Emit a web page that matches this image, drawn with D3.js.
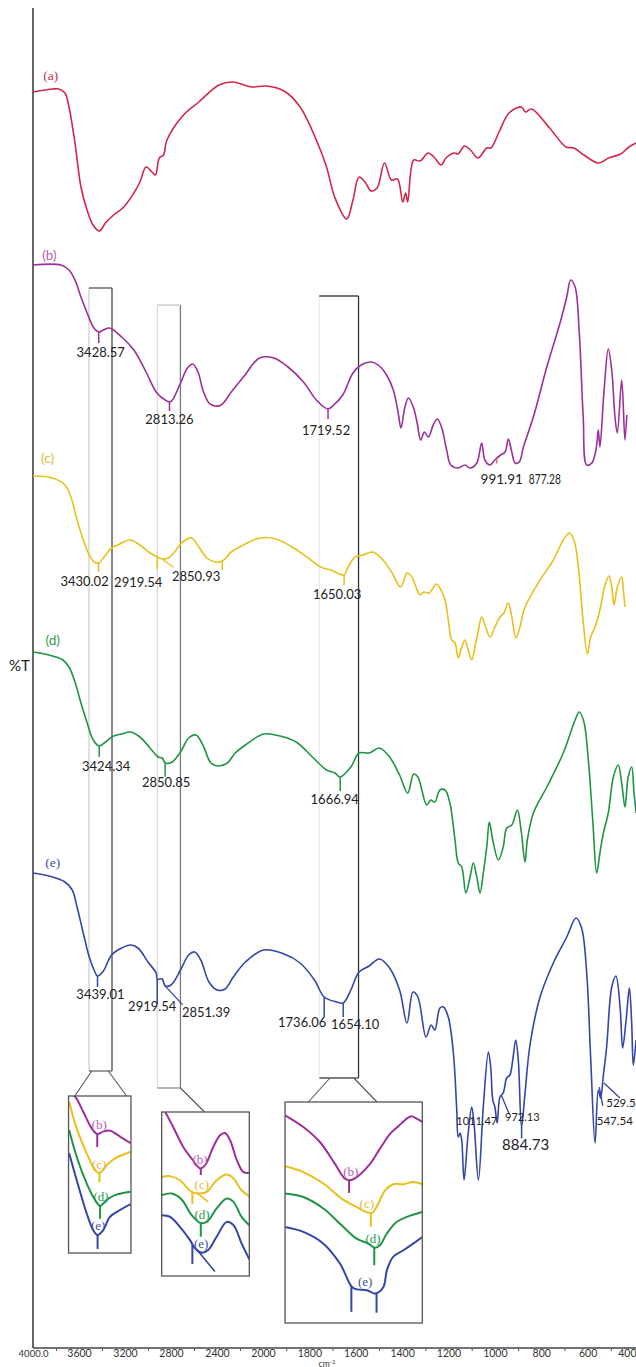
<!DOCTYPE html>
<html>
<head>
<meta charset="utf-8">
<script src="https://cdn.jsdelivr.net/npm/d3@7"></script>
<style>
  html, body { margin: 0; padding: 0; background: #fff; }
  svg { display: block; }
</style>
</head>
<body>
<svg id="chart" width="636" height="1367"></svg>
<script>
// ---------- FTIR spectra: [wavenumber cm-1, stacked %T] ----------
const specA = [[4000,125.6],[3829,125.9],[3776,125.9],[3722,125.5],[3687,124.1],[3635,120.5],[3583,116.1],[3530,113.8],[3478,112.3],[3423,111.7],[3370,112.5],[3299,113.3],[3211,114.1],[3123,115.5],[3070,116.6],[3017,118.1],[2965,117.6],[2936,117.3],[2901,119.0],[2865,119.3],[2835,120.8],[2699,123.2],[2558,124.6],[2383,126.3],[2261,126.6],[2100,126.1],[1988,126.2],[1909,125.7],[1840,124.1],[1770,120.8],[1726,118.1],[1691,115.1],[1639,112.9],[1612,114.8],[1586,117.1],[1560,116.6],[1534,115.7],[1508,116.0],[1476,118.5],[1446,116.8],[1420,116.9],[1397,114.6],[1385,115.5],[1376,114.6],[1350,118.8],[1323,118.7],[1288,119.5],[1263,119.1],[1231,118.3],[1211,119.0],[1176,119.5],[1159,119.4],[1131,120.2],[1105,119.8],[1073,119.0],[1035,120.0],[1017,120.0],[982,121.6],[939,123.5],[886,124.1],[868,123.6],[842,123.9],[764,122.0],[693,120.1],[659,120.0],[616,119.3],[553,118.5],[510,119.0],[457,119.4],[422,120.1],[391,120.5]];

const specB = [[4000,108.3],[3757,108.3],[3687,107.8],[3635,106.8],[3583,105.1],[3529,103.5],[3476,102.1],[3429,101.6],[3388,101.8],[3335,102.0],[3229,101.1],[3123,99.8],[3017,97.6],[2929,95.6],[2876,95.0],[2813,94.6],[2788,94.8],[2717,96.5],[2657,98.0],[2611,98.4],[2565,97.6],[2523,95.8],[2470,94.5],[2417,94.2],[2364,94.3],[2276,95.6],[2170,97.1],[2030,99.0],[1953,99.0],[1892,98.1],[1822,96.5],[1770,94.8],[1720,93.9],[1695,94.3],[1656,95.3],[1612,97.5],[1577,98.3],[1533,98.6],[1498,98.2],[1467,97.3],[1438,95.8],[1417,93.5],[1405,92.0],[1388,94.1],[1373,95.0],[1352,94.1],[1335,92.5],[1320,90.8],[1304,91.6],[1287,91.1],[1266,92.3],[1248,92.9],[1229,92.0],[1208,89.8],[1190,88.3],[1158,88.0],[1129,88.3],[1107,88.0],[1078,88.5],[1057,90.5],[1043,88.8],[1021,88.3],[1000,88.8],[975,89.3],[956,89.6],[942,90.9],[927,89.6],[913,88.5],[895,88.6],[877,90.1],[834,93.1],[776,98.1],[719,102.5],[690,105.1],[673,106.8],[654,106.1],[636,101.5],[619,93.1],[604,88.3],[582,88.5],[564,89.8],[554,91.8],[547,90.1],[529,95.8],[511,99.9],[496,97.8],[482,93.1],[472,91.5],[453,96.8],[439,90.8],[431,93.3]];

const specC = [[4000,87.2],[3829,87.0],[3722,86.3],[3670,85.1],[3617,82.8],[3563,80.8],[3511,79.3],[3469,78.6],[3430,78.5],[3388,79.0],[3317,80.0],[3246,80.4],[3158,80.8],[3070,80.3],[2982,79.5],[2920,79.1],[2876,78.9],[2823,79.0],[2770,79.6],[2699,80.6],[2622,81.0],[2558,80.1],[2488,79.0],[2417,78.6],[2354,78.7],[2276,79.6],[2170,80.3],[2030,81.0],[1944,80.9],[1875,80.1],[1805,79.0],[1752,78.1],[1708,77.8],[1650,77.3],[1635,78.0],[1603,79.1],[1569,79.3],[1528,79.6],[1490,79.0],[1446,77.6],[1406,76.1],[1379,77.5],[1358,77.1],[1323,75.3],[1306,75.6],[1283,75.5],[1253,76.4],[1237,76.0],[1215,74.8],[1201,72.8],[1186,70.8],[1172,70.5],[1158,69.0],[1143,70.1],[1129,70.8],[1115,69.8],[1100,68.8],[1086,70.1],[1071,71.8],[1057,73.1],[1043,72.3],[1021,71.1],[1000,72.1],[978,73.1],[961,73.5],[942,74.5],[927,73.1],[909,71.0],[892,72.1],[870,74.1],[805,76.8],[748,78.8],[705,80.8],[679,81.5],[659,80.8],[640,78.1],[621,73.1],[601,69.4],[587,71.1],[568,72.1],[547,73.8],[525,76.3],[508,77.2],[496,76.1],[486,74.3],[472,76.1],[453,77.1],[446,75.8],[439,74.1]];

const specD = [[4000,69.6],[3863,69.3],[3740,68.8],[3687,68.1],[3635,66.6],[3583,64.5],[3529,62.5],[3476,60.8],[3424,60.2],[3370,60.6],[3299,61.2],[3229,61.4],[3151,61.6],[3070,61.1],[2982,60.0],[2911,59.1],[2876,59.0],[2850,58.5],[2790,58.6],[2717,59.6],[2647,61.0],[2583,61.3],[2523,60.3],[2452,58.5],[2383,58.2],[2311,58.5],[2241,59.5],[2153,60.3],[1997,61.4],[1927,61.2],[1857,60.6],[1787,59.1],[1726,57.8],[1690,57.5],[1667,57.1],[1621,58.1],[1586,59.5],[1542,59.5],[1498,60.0],[1454,59.1],[1411,57.3],[1376,55.5],[1350,57.4],[1332,57.1],[1294,54.3],[1276,54.8],[1259,54.6],[1237,55.8],[1215,55.8],[1194,54.5],[1172,50.8],[1158,48.5],[1143,48.1],[1125,45.5],[1107,47.1],[1093,48.5],[1078,47.1],[1064,45.5],[1050,47.5],[1035,50.1],[1024,52.6],[1009,50.8],[985,48.8],[964,50.1],[949,52.0],[927,52.3],[903,53.8],[887,51.8],[870,48.6],[860,50.8],[834,53.5],[776,56.1],[705,59.5],[654,62.8],[636,63.6],[616,62.6],[597,58.8],[578,52.8],[561,47.5],[547,49.5],[532,51.5],[511,53.5],[489,57.1],[468,58.3],[453,56.5],[439,54.1],[425,57.1],[410,58.1],[400,55.5],[391,53.5]];

const specE = [[4000,47.5],[3863,47.2],[3722,46.6],[3659,45.8],[3617,44.1],[3563,41.5],[3511,39.1],[3469,37.8],[3439,37.2],[3388,37.7],[3317,39.3],[3229,40.0],[3151,40.3],[3087,40.0],[3000,38.6],[2929,37.5],[2920,36.9],[2876,36.9],[2851,36.2],[2800,36.3],[2717,37.8],[2647,39.3],[2594,39.6],[2541,38.8],[2470,36.6],[2400,35.8],[2329,35.9],[2258,37.1],[2153,38.6],[1997,39.8],[1909,39.4],[1840,38.5],[1778,36.8],[1736,35.1],[1682,34.6],[1654,34.5],[1621,35.8],[1586,37.6],[1542,38.2],[1498,38.9],[1454,38.0],[1411,35.8],[1379,32.5],[1353,35.6],[1332,35.1],[1297,31.1],[1275,32.3],[1259,31.8],[1237,34.0],[1222,34.1],[1201,33.1],[1179,29.5],[1165,24.1],[1158,21.1],[1150,21.5],[1143,20.8],[1133,16.8],[1115,21.5],[1100,24.1],[1090,22.5],[1071,16.8],[1050,24.1],[1028,29.6],[1018,28.1],[1009,24.8],[1000,24.1],[990,22.5],[978,25.1],[964,25.5],[949,27.0],[935,27.3],[923,28.8],[910,30.8],[899,28.8],[885,22.1],[870,25.5],[848,30.4],[805,35.1],[748,38.5],[690,41.1],[650,43.0],[626,42.0],[604,37.5],[587,29.1],[568,20.5],[554,25.8],[544,25.0],[532,27.3],[518,30.1],[496,36.1],[478,37.2],[460,34.1],[449,30.0],[434,32.8],[420,36.0],[410,32.5],[403,28.3],[391,30.8]];

// series names shown on the plot
const seriesKeys = ['a', 'b', 'c', 'd', 'e'];
const seriesNames = ['(a)', '(b)', '(c)', '(d)', '(e)'];

// wavenumber axis ticks
const axisLabels = [4000, 3600, 3200, 2800, 2400, 2000, 1800, 1600, 1400, 1200, 1000, 800, 600, 400];
const axisMinor = [3800, 3400, 3000, 2600, 2200, 1900, 1700, 1500, 1300, 1100, 900, 700, 500];

// assigned band positions
const peakMarks = [
  {s:'b', wn:3428.57, text:'3428.57'}, {s:'b', wn:2813.26, text:'2813.26'},
  {s:'b', wn:1719.52, text:'1719.52'}, {s:'b', wn:991.91, text:'991.91'},
  {s:'b', wn:877.28, text:'877.28'},
  {s:'c', wn:3430.02, text:'3430.02'}, {s:'c', wn:2919.54, text:'2919.54'},
  {s:'c', wn:2850.93, text:'2850.93'}, {s:'c', wn:2354, text:''},
  {s:'c', wn:1650.03, text:'1650.03'},
  {s:'d', wn:3424.34, text:'3424.34'}, {s:'d', wn:2850.85, text:'2850.85'},
  {s:'d', wn:1666.94, text:'1666.94'},
  {s:'e', wn:3439.01, text:'3439.01'}, {s:'e', wn:2919.54, text:'2919.54'},
  {s:'e', wn:2851.39, text:'2851.39'}, {s:'e', wn:1736.06, text:'1736.06'},
  {s:'e', wn:1654.10, text:'1654.10'}, {s:'e', wn:1011.47, text:'1011.47'},
  {s:'e', wn:972.13, text:'972.13'}, {s:'e', wn:884.73, text:'884.73'},
  {s:'e', wn:547.54, text:'547.54'}, {s:'e', wn:529.5, text:'529.5'}
];

// magnified views: curve segments [wavenumber, relative %T]
const insetB1 = [[3530,106],[3492,99.6],[3466,90.0],[3439,79.4],[3421,75.8],[3402,77.3],[3380,77.9],[3348,74.1],[3314,69.9]];
const insetC1 = [[3511,96.4],[3487,79.4],[3455,63.5],[3428,52.9],[3414,50.8],[3391,56.1],[3364,60.3],[3314,64.5]];
const insetD1 = [[3511,78.3],[3487,61.3],[3455,44.4],[3428,33.8],[3412,30.1],[3391,33.8],[3364,36.9],[3314,39.0]];
const insetE1 = [[3511,63.5],[3487,46.5],[3455,25.3],[3434,14.6],[3420,11.5],[3402,14.6],[3380,23.1],[3348,27.4],[3314,31.2]];

const insetB2 = [[2968,106],[2948,99.4],[2926,90.9],[2896,78.7],[2871,71.6],[2846,65.6],[2831,67.6],[2807,78.7],[2787,85.8],[2772,87.2],[2757,82.8],[2737,70.6],[2718,63.5],[2700,62.9]];
const insetC2 = [[2960,60.4],[2935,60.9],[2906,58.4],[2871,51.3],[2846,50.3],[2826,51.3],[2797,58.4],[2767,61.9],[2747,59.5],[2723,52.3],[2700,48.7]];
const insetD2 = [[2960,49.3],[2930,50.3],[2901,46.7],[2871,37.1],[2846,32.4],[2826,33.0],[2797,41.2],[2767,47.3],[2747,45.2],[2723,36.1],[2700,31.0]];
const insetE2 = [[2960,37.1],[2935,36.1],[2906,30.0],[2876,21.9],[2861,16.9],[2841,14.2],[2822,15.8],[2797,23.9],[2767,33.0],[2747,31.0],[2723,19.9],[2700,10.2]];

const insetB3 = [[1800,94.0],[1768,88.7],[1739,81.9],[1713,72.1],[1695,65.3],[1686,64.6],[1674,66.1],[1651,72.1],[1634,78.9],[1616,85.7],[1602,89.0],[1587,92.5],[1579,93.5],[1570,92.5],[1560,91.0]];
const insetC3 = [[1800,70.9],[1768,68.3],[1733,63.1],[1701,56.3],[1675,52.5],[1657,50.2],[1648,49.8],[1640,52.5],[1625,60.0],[1611,62.8],[1593,62.8],[1576,63.8],[1560,62.8]];
const insetD3 = [[1800,58.6],[1768,57.0],[1733,51.8],[1701,44.2],[1675,38.2],[1654,35.9],[1643,34.1],[1634,35.2],[1622,40.5],[1605,45.7],[1587,48.0],[1560,50.2]];
const insetE3 = [[1800,43.4],[1768,41.2],[1733,35.9],[1704,26.9],[1683,16.3],[1674,15.2],[1657,14.8],[1642,13.3],[1628,16.3],[1622,23.8],[1611,29.9],[1593,32.9],[1576,35.9],[1560,38.9]];

// band markers inside the magnified views: [series, wavenumber]
const insetTicks1 = [['b',3421],['c',3414],['d',3412],['e',3420]];
const insetTicks2 = [['b',2844],['c',2869],['d',2844],['e',2869]];
const insetTicks3 = [['b',1688],['c',1650],['d',1644],['e',1684],['e',1640]];
const insetLabelAt1 = [['b',3415],['c',3415],['d',3409],['e',3418]];
const insetLabelAt2 = [['b',2846],['c',2841],['d',2840],['e',2843]];
const insetLabelAt3 = [['b',1685],['c',1657],['d',1646],['e',1660]];

// ---------- styling / layout ----------
const colors = {a:'#d2264b', b:'#9d2f99', c:'#e8c01c', d:'#1f9445', e:'#3446a4'};
const labelColors = {a:'#c0304c', b:'#b75db5', c:'#e2b93a', d:'#2c9a50', e:'#4050a8'};
const labelFonts = {a:'Liberation Serif', b:'Lato', c:'Lato', d:'Lato', e:'Liberation Serif'};
const seriesLabelPos = {a:[3846,126.8], b:[3857,108.8], c:[3874,88.5], d:[3829,70.3], e:[3829,48.1]};

// per-mark layout: tick length, leader [dx0,dy0,dx1,dy1], label offset, font size
const peakLayout = [
  {tick:11, dx:2, dy:25, size:13}, {tick:9, dx:0, dy:22, size:13},
  {tick:10, dx:-2, dy:26, size:13}, {tick:5, dx:5, dy:26, size:13.5, tickColor:'#e0707a'},
  {dx:21.5, dy:37, size:13, fit:32},
  {tick:9, dx:-14, dy:23, size:13}, {tick:12, dx:-19, dy:30, size:13},
  {lead:[-2.8,0.8,8.5,8.8], dx:31, dy:22, size:13}, {tick:9},
  {tick:10, dx:-7, dy:24.5, size:13},
  {tick:11, dx:7, dy:25, size:13}, {tick:14, dx:1, dy:24, size:13},
  {tick:14, dx:-5.5, dy:27.5, size:13},
  {tick:11, dx:3, dy:23.5, size:13}, {tick:25, dx:-5, dy:32, size:13},
  {lead:[0,0,17.6,19], dx:41, dy:31, size:13}, {tick:20, dx:-22, dy:30.5, size:13},
  {tick:14, dx:12, dy:26, size:13}, {dx:-15.5, dy:34.5, size:11},
  {lead:[0,0,8,19], dx:21, dy:26, size:11}, {tick:12, dx:4, dy:24, size:15},
  {lead:[-0.5,-8,3,10.7], dx:15, dy:30, size:11.5}, {lead:[0,13,16,28], dx:17, dy:37, size:11.5}
];

const zoomWindows = [
  {from:3513, to:3313, top:106.0, bottom:27.7, edge:['#cfcfcf','#4a4a4a','#555','#666'],
   inset:{from:3691, to:3148, top:25.2, bottom:9.5}, domain:[3513,3313],
   links:[[0.12,0.10],[0.84,0.93]], curves:{b:insetB1,c:insetC1,d:insetD1,e:insetE1},
   ticks:insetTicks1, tickLen:[13,9,13,14], labels:insetLabelAt1, leads:[]},
  {from:2918, to:2718, top:104.3, bottom:26.0, edge:['#d8d8d8','#7a7a7a','#c4c4c4','#8f8f8f'],
   inset:{from:2881, to:2119, top:23.6, bottom:7.2}, domain:[2960,2700],
   links:[[1.0,0.49]], curves:{b:insetB2,c:insetC2,d:insetD2,e:insetE2},
   ticks:insetTicks2, tickLen:[7,12,14,20], labels:insetLabelAt2,
   leads:[['c',2856,2822,0,9],['e',2856,2802,0,22]]},
  {from:1757, to:1588, top:105.2, bottom:27.0, edge:['#ececec','#333','#444','#555'],
   inset:{from:1905, to:1313, top:24.6, bottom:2.5}, domain:[1800,1560],
   links:[[0.27,0.17],[0.88,0.67]], curves:{b:insetB3,c:insetC3,d:insetD3,e:insetE3},
   ticks:insetTicks3, tickLen:[13,14,18,26,20], labels:insetLabelAt3, leads:[]}
];

// ---------- scales ----------
const W = 636, H = 1367;
const x = d3.scaleLinear().domain([4000, 2000, 400]).range([33, 263, 634]);
const y = d3.scaleLinear().domain([0, 134]).range([1348, 8]);
const spectra = {a:specA, b:specB, c:specC, d:specD, e:specE};

function valueAt(data, wn) {
  for (let i = 0; i < data.length - 1; i++) {
    const [w0, v0] = data[i], [w1, v1] = data[i + 1];
    if (wn <= w0 && wn >= w1) return v0 + (w0 - wn) / (w0 - w1) * (v1 - v0);
  }
  return wn > data[0][0] ? data[0][1] : data[data.length - 1][1];
}

const svg = d3.select('#chart');
svg.append('rect').attr('width', W).attr('height', H).attr('fill', '#fff');

// ---------- zoom window outlines ----------
const gBoxes = svg.append('g');
zoomWindows.forEach(zw => {
  const L = x(zw.from), R = x(zw.to), T = y(zw.top), B = y(zw.bottom);
  const segs = [[L,T,L,B],[R,T,R,B],[L,T,R,T],[L,B,R,B]];
  segs.forEach((s, k) => gBoxes.append('line')
    .attr('x1', s[0]).attr('y1', s[1]).attr('x2', s[2]).attr('y2', s[3])
    .attr('stroke', zw.edge[k]).attr('stroke-width', 1.3));
});

// ---------- axes ----------
svg.append('line').attr('x1', x(4000)).attr('x2', x(4000)).attr('y1', 8).attr('y2', y(0))
  .attr('stroke', '#333').attr('stroke-width', 1.5);
svg.append('line').attr('x1', x(4000)).attr('x2', W).attr('y1', y(0)).attr('y2', y(0))
  .attr('stroke', '#444').attr('stroke-width', 1.3);

const gx = svg.append('g').attr('transform', `translate(0,${y(0)})`)
  .call(d3.axisBottom(x).tickValues(axisLabels).tickSize(0).tickPadding(2)
    .tickFormat(d => d === 4000 ? '4000.0' : String(d)));
gx.select('.domain').remove();
gx.selectAll('text').attr('font-family', 'Lato, sans-serif').attr('font-size', 10.5).attr('fill', '#333');
gx.selectAll('.tick').filter(d => d === 4000).select('text').attr('font-size', 9.5);
gx.selectAll('.tick').filter(d => d === 400).select('text').attr('text-anchor', 'end').attr('x', W - x(400));

const gm = svg.append('g').attr('transform', `translate(0,${y(0)})`)
  .call(d3.axisBottom(x).tickValues(axisMinor).tickSize(3).tickFormat(''));
gm.select('.domain').remove();
gm.selectAll('line').attr('stroke', '#555');

svg.append('text').attr('x', 327).attr('y', 1366.5).attr('text-anchor', 'middle')
  .attr('font-family', 'Lato, sans-serif').attr('font-size', 8.5).attr('fill', '#333')
  .html('cm<tspan dy="-2.5" font-size="6">-1</tspan>');
svg.append('text').attr('x', 9).attr('y', 671)
  .attr('font-family', 'Lato, sans-serif').attr('font-size', 15).attr('fill', '#222').text('%T');

// ---------- spectra ----------
const line = d3.line().x(d => x(d[0])).y(d => y(d[1])).curve(d3.curveCatmullRom.alpha(0.5));
seriesKeys.forEach(k => {
  svg.append('path').datum(spectra[k]).attr('d', line)
    .attr('fill', 'none').attr('stroke', colors[k]).attr('stroke-width', 1.6)
    .attr('stroke-linejoin', 'round');
});
seriesKeys.forEach((k, i) => {
  const p = seriesLabelPos[k];
  svg.append('text').attr('x', x(p[0])).attr('y', y(p[1])).attr('text-anchor', 'middle')
    .attr('font-family', labelFonts[k] + ', serif').attr('font-size', 13.5)
    .attr('fill', labelColors[k]).text(seriesNames[i]);
});

// ---------- band ticks and labels ----------
peakMarks.forEach((m, i) => {
  const L = peakLayout[i];
  const px = x(m.wn), py = y(valueAt(spectra[m.s], m.wn));
  if (L.tick) svg.append('line').attr('x1', px).attr('x2', px).attr('y1', py).attr('y2', py + L.tick)
    .attr('stroke', L.tickColor || colors[m.s]).attr('stroke-width', 1.5);
  if (L.lead) svg.append('line').attr('x1', px + L.lead[0]).attr('y1', py + L.lead[1])
    .attr('x2', px + L.lead[2]).attr('y2', py + L.lead[3])
    .attr('stroke', colors[m.s]).attr('stroke-width', 1.3);
  if (m.text) {
    const t = svg.append('text').attr('x', px + L.dx).attr('y', py + L.dy).attr('text-anchor', 'middle')
      .attr('font-family', 'Lato, sans-serif').attr('font-size', L.size).attr('fill', '#222').text(m.text);
    if (L.fit) t.attr('textLength', L.fit).attr('lengthAdjust', 'spacingAndGlyphs');
  }
});

// ---------- magnified insets ----------
zoomWindows.forEach((zw, n) => {
  const X0 = x(zw.inset.from), X1 = x(zw.inset.to), Y0 = y(zw.inset.top), Y1 = y(zw.inset.bottom);
  const ix = d3.scaleLinear().domain(zw.domain).range([X0, X1]);
  const iy = d3.scaleLinear().domain([0, 100]).range([Y1, Y0]);

  // connectors from window bottom to inset top
  const bL = x(zw.from), bR = x(zw.to), bB = y(zw.bottom);
  zw.links.forEach(([f0, f1]) => {
    svg.append('line').attr('x1', bL + f0 * (bR - bL)).attr('y1', bB)
      .attr('x2', X0 + f1 * (X1 - X0)).attr('y2', Y0)
      .attr('stroke', '#555').attr('stroke-width', 1.1);
  });

  const id = 'inset-clip-' + n;
  svg.append('clipPath').attr('id', id).append('rect')
    .attr('x', X0).attr('y', Y0).attr('width', X1 - X0).attr('height', Y1 - Y0);
  svg.append('rect').attr('x', X0).attr('y', Y0).attr('width', X1 - X0).attr('height', Y1 - Y0)
    .attr('fill', '#fff');

  const g = svg.append('g').attr('clip-path', `url(#${id})`);
  const iline = d3.line().x(d => ix(d[0])).y(d => iy(d[1])).curve(d3.curveCatmullRom.alpha(0.5));
  Object.keys(zw.curves).forEach(k => {
    g.append('path').datum(zw.curves[k]).attr('d', iline)
      .attr('fill', 'none').attr('stroke', colors[k]).attr('stroke-width', 2);
  });
  zw.ticks.forEach(([k, wn], j) => {
    const py = iy(valueAt(zw.curves[k], wn));
    svg.append('line').attr('x1', ix(wn)).attr('x2', ix(wn)).attr('y1', py).attr('y2', py + zw.tickLen[j])
      .attr('stroke', colors[k]).attr('stroke-width', 2);
  });
  zw.leads.forEach(([k, w0, w1, d0, d1]) => {
    const py = iy(valueAt(zw.curves[k], w0));
    svg.append('line').attr('x1', ix(w0)).attr('y1', py + d0).attr('x2', ix(w1)).attr('y2', py + d1)
      .attr('stroke', colors[k]).attr('stroke-width', 1.6);
  });
  zw.labels.forEach(([k, wn]) => {
    const py = iy(valueAt(zw.curves[k], wn));
    svg.append('text').attr('x', ix(wn)).attr('y', py - 4).attr('text-anchor', 'middle')
      .attr('font-family', 'Liberation Serif, serif').attr('font-size', 13)
      .attr('fill', labelColors[k]).text('(' + k + ')');
  });

  svg.append('rect').attr('x', X0).attr('y', Y0).attr('width', X1 - X0).attr('height', Y1 - Y0)
    .attr('fill', 'none').attr('stroke', '#555').attr('stroke-width', 1.3);
});
</script>
</body>
</html>
